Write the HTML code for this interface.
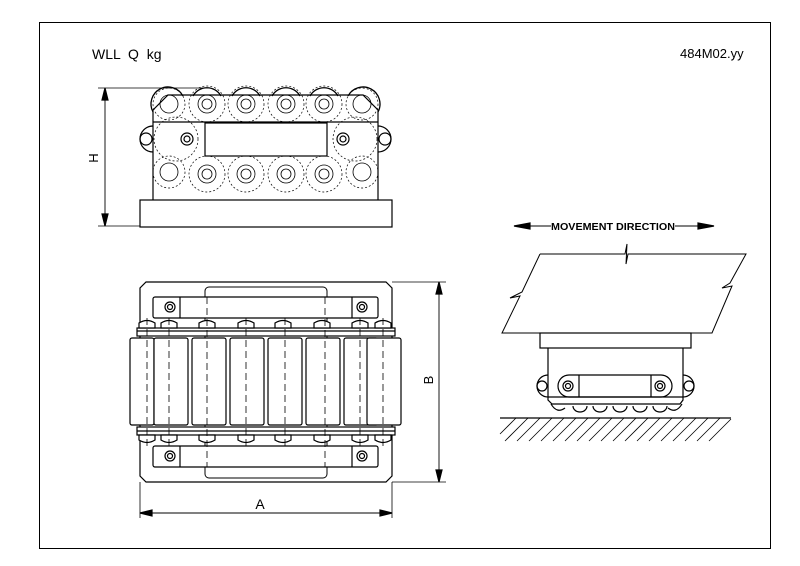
<!DOCTYPE html>
<html><head><meta charset="utf-8"><style>
body{margin:0;background:#fff;}
svg{display:block;}
text{font-family:"Liberation Sans",sans-serif;fill:#000;white-space:pre;}
</style></head><body>
<svg width="800" height="566" viewBox="0 0 800 566" xmlns="http://www.w3.org/2000/svg" fill="none" stroke="#000" stroke-width="1.2">
<rect x="39.5" y="22.5" width="731" height="526" stroke-width="1"/>
<text x="92" y="59" font-size="14" stroke="none" xml:space="preserve">WLL  Q  kg</text>
<text x="680" y="58" font-size="13" stroke="none">484M02.yy</text>

<!-- TOP VIEW -->
<g>
<line x1="98" y1="88" x2="210" y2="88" stroke-width="0.8"/>
<line x1="98" y1="226" x2="140" y2="226" stroke-width="0.8"/>
<line x1="105" y1="90" x2="105" y2="224" stroke-width="0.9"/>
<polygon points="105,88 102,100 108,100" fill="#000"/>
<polygon points="105,226 102,214 108,214" fill="#000"/>
<text x="0" y="0" font-size="13" stroke="none" transform="translate(98,158) rotate(-90)" text-anchor="middle">H</text>
<g stroke-width="1.3">
<path d="M153,112 A16,16 0 0 1 183,96"/>
<path d="M193,96 A16,16 0 0 1 221,96"/>
<path d="M232,96 A16,16 0 0 1 260,96"/>
<path d="M272,96 A16,16 0 0 1 300,96"/>
<path d="M310,96 A16,16 0 0 1 338,96"/>
<path d="M348,96 A16,16 0 0 1 378,112"/>
</g>
<path d="M153,200 L153,110 L168,95 L363,95 L378,110 L378,200"/>
<line x1="153" y1="122" x2="378" y2="122"/>
<rect x="205" y="123" width="122" height="33"/>
<rect x="140" y="200" width="252" height="27"/>
<path d="M153,126 A13,13 0 1 0 153,152"/>
<circle cx="146" cy="139" r="6"/>
<path d="M378,126 A13,13 0 1 1 378,152"/>
<circle cx="385" cy="139" r="6"/>
<circle cx="187" cy="139" r="6"/><circle cx="187" cy="139" r="3"/>
<circle cx="343" cy="139" r="6"/><circle cx="343" cy="139" r="3"/>
<g stroke-width="0.7" stroke-dasharray="2,2">
<circle cx="169" cy="104" r="16"/><circle cx="207" cy="104" r="18"/><circle cx="246" cy="104" r="18"/><circle cx="286" cy="104" r="18"/><circle cx="324" cy="104" r="18"/><circle cx="362" cy="104" r="16"/>
<circle cx="169" cy="172" r="16"/><circle cx="207" cy="174" r="18"/><circle cx="246" cy="174" r="18"/><circle cx="286" cy="174" r="18"/><circle cx="324" cy="174" r="18"/><circle cx="362" cy="172" r="16"/>
<circle cx="176" cy="139" r="22"/><circle cx="355" cy="139" r="22"/>
</g>
<g stroke-width="0.8">
<circle cx="169" cy="104" r="9"/><circle cx="207" cy="104" r="9"/><circle cx="246" cy="104" r="9"/><circle cx="286" cy="104" r="9"/><circle cx="324" cy="104" r="9"/><circle cx="362" cy="104" r="9"/>
<circle cx="207" cy="104" r="5"/><circle cx="246" cy="104" r="5"/><circle cx="286" cy="104" r="5"/><circle cx="324" cy="104" r="5"/>
<circle cx="169" cy="172" r="9"/><circle cx="207" cy="174" r="9"/><circle cx="246" cy="174" r="9"/><circle cx="286" cy="174" r="9"/><circle cx="324" cy="174" r="9"/><circle cx="362" cy="172" r="9"/>
<circle cx="207" cy="174" r="5"/><circle cx="246" cy="174" r="5"/><circle cx="286" cy="174" r="5"/><circle cx="324" cy="174" r="5"/>
</g>
</g>

<!-- BOTTOM VIEW -->
<g>
<path d="M146,282 L386,282 L392,288 L392,476 L386,482 L146,482 L140,476 L140,288 Z"/>
<rect x="205" y="287" width="122" height="191" rx="4" stroke-width="1"/>
<rect x="153" y="297" width="225" height="21" rx="2" fill="#fff"/>
<line x1="180" y1="297" x2="180" y2="318"/><line x1="352" y1="297" x2="352" y2="318"/>
<rect x="153" y="446" width="225" height="21" rx="2" fill="#fff"/>
<line x1="180" y1="446" x2="180" y2="467"/><line x1="352" y1="446" x2="352" y2="467"/>
<circle cx="170" cy="307" r="5"/><circle cx="170" cy="307" r="2.5"/>
<circle cx="362" cy="307" r="5"/><circle cx="362" cy="307" r="2.5"/>
<circle cx="170" cy="456" r="5"/><circle cx="170" cy="456" r="2.5"/>
<circle cx="362" cy="456" r="5"/><circle cx="362" cy="456" r="2.5"/>
<rect x="137" y="328" width="258" height="8" fill="#fff"/>
<rect x="137" y="427" width="258" height="8" fill="#fff"/>
<line x1="137" y1="331" x2="395" y2="331"/><line x1="137" y1="431" x2="395" y2="431"/>
<g fill="#fff">
<path d="M139,328 v-5 q8,-5 16,0 v5z"/><path d="M161,328 v-5 q8,-5 16,0 v5z"/><path d="M199,328 v-5 q8,-5 16,0 v5z"/><path d="M238,328 v-5 q8,-5 16,0 v5z"/><path d="M275,328 v-5 q8,-5 16,0 v5z"/><path d="M314,328 v-5 q8,-5 16,0 v5z"/><path d="M352,328 v-5 q8,-5 16,0 v5z"/><path d="M375,328 v-5 q8,-5 16,0 v5z"/>
<path d="M139,435 v5 q8,5 16,0 v-5z"/><path d="M161,435 v5 q8,5 16,0 v-5z"/><path d="M199,435 v5 q8,5 16,0 v-5z"/><path d="M238,435 v5 q8,5 16,0 v-5z"/><path d="M275,435 v5 q8,5 16,0 v-5z"/><path d="M314,435 v5 q8,5 16,0 v-5z"/><path d="M352,435 v5 q8,5 16,0 v-5z"/><path d="M375,435 v5 q8,5 16,0 v-5z"/>
<rect x="130" y="338" width="24" height="87" rx="2"/>
<rect x="154" y="338" width="34" height="87" rx="2"/>
<rect x="192" y="338" width="34" height="87" rx="2"/>
<rect x="230" y="338" width="34" height="87" rx="2"/>
<rect x="268" y="338" width="34" height="87" rx="2"/>
<rect x="306" y="338" width="34" height="87" rx="2"/>
<rect x="344" y="338" width="34" height="87" rx="2"/>
<rect x="367" y="338" width="34" height="87" rx="2"/>
</g>
<g stroke-dasharray="7,4" stroke-width="0.8">
<line x1="147" y1="318" x2="147" y2="446"/><line x1="169" y1="318" x2="169" y2="446"/>
<line x1="207" y1="297" x2="207" y2="467"/><line x1="246" y1="318" x2="246" y2="446"/>
<line x1="285" y1="318" x2="285" y2="446"/><line x1="325" y1="297" x2="325" y2="467"/>
<line x1="360" y1="318" x2="360" y2="446"/><line x1="383" y1="318" x2="383" y2="446"/>
</g>
<line x1="392" y1="282" x2="446" y2="282" stroke-width="0.8"/>
<line x1="392" y1="482" x2="446" y2="482" stroke-width="0.8"/>
<line x1="439" y1="284" x2="439" y2="480" stroke-width="0.9"/>
<polygon points="439,282 436,294 442,294" fill="#000"/>
<polygon points="439,482 436,470 442,470" fill="#000"/>
<text font-size="13" stroke="none" transform="translate(433,380) rotate(-90)" text-anchor="middle">B</text>
<line x1="140" y1="482" x2="140" y2="518" stroke-width="0.8"/>
<line x1="392" y1="482" x2="392" y2="518" stroke-width="0.8"/>
<line x1="142" y1="513" x2="390" y2="513" stroke-width="0.9"/>
<polygon points="140,513 152,510 152,516" fill="#000"/>
<polygon points="392,513 380,510 380,516" fill="#000"/>
<text x="260" y="509" font-size="14" stroke="none" text-anchor="middle">A</text>
</g>

<!-- SIDE VIEW -->
<g>
<line x1="516" y1="226" x2="712" y2="226" stroke-width="1"/>
<polygon points="514,226 530,223 530,229" fill="#000"/>
<polygon points="714,226 698,223 698,229" fill="#000"/>
<rect x="551" y="219" width="124" height="13" fill="#fff" stroke="none"/>
<text x="613" y="230" font-size="10.5" font-weight="bold" stroke="none" text-anchor="middle" textLength="124" lengthAdjust="spacingAndGlyphs">MOVEMENT DIRECTION</text>
<path d="M540,254 L625,254 L627,244 L626,264 L628,254 L746,254 L730,283 L722,288 L732,286 L712,333 L502,333 L520,296 L510,298 L522,292 L540,254" stroke-width="1"/>
<rect x="540" y="333" width="151" height="15"/>
<path d="M548,348 L548,400 L552,404 L680,404 L683,400 L683,348"/>
<rect x="558" y="375" width="114" height="22" rx="11"/>
<line x1="579" y1="375" x2="579" y2="397"/><line x1="651" y1="375" x2="651" y2="397"/>
<circle cx="568" cy="386" r="5"/><circle cx="568" cy="386" r="2.5"/>
<circle cx="660" cy="386" r="5"/><circle cx="660" cy="386" r="2.5"/>
<path d="M548,375 A11,11 0 1 0 548,397"/><circle cx="542" cy="386" r="5"/>
<path d="M683,375 A11,11 0 1 1 683,397"/><circle cx="689" cy="386" r="5"/>
<line x1="548" y1="397" x2="683" y2="397"/>
<path d="M551,404 q6,10 14,4 M573,406 a7,6 0 0 0 14,0 M593,406 a7,6 0 0 0 14,0 M613,406 a7,6 0 0 0 14,0 M633,406 a7,6 0 0 0 14,0 M653,406 a7,6 0 0 0 14,0 M668,408 q8,6 14,-4"/>
<line x1="500" y1="418" x2="731" y2="418"/>
<g stroke-width="0.8">
<line x1="500" y1="434" x2="516" y2="418"/><line x1="505" y1="441" x2="528" y2="418"/>
<line x1="517" y1="441" x2="540" y2="418"/><line x1="529" y1="441" x2="552" y2="418"/>
<line x1="541" y1="441" x2="564" y2="418"/><line x1="553" y1="441" x2="576" y2="418"/>
<line x1="565" y1="441" x2="588" y2="418"/><line x1="577" y1="441" x2="600" y2="418"/>
<line x1="589" y1="441" x2="612" y2="418"/><line x1="601" y1="441" x2="624" y2="418"/>
<line x1="613" y1="441" x2="636" y2="418"/><line x1="625" y1="441" x2="648" y2="418"/>
<line x1="637" y1="441" x2="660" y2="418"/><line x1="649" y1="441" x2="672" y2="418"/>
<line x1="661" y1="441" x2="684" y2="418"/><line x1="673" y1="441" x2="696" y2="418"/>
<line x1="685" y1="441" x2="708" y2="418"/><line x1="697" y1="441" x2="720" y2="418"/>
<line x1="709" y1="441" x2="731" y2="419"/>
</g>
</g>
</svg>
</body></html>
